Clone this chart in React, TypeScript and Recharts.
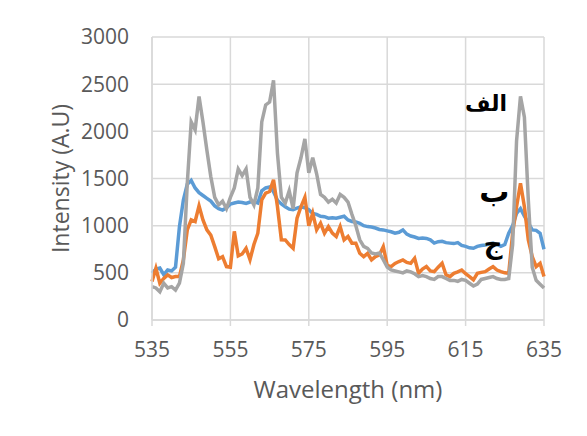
import React from 'react';
import { LineChart, Line, XAxis, YAxis, CartesianGrid, ReferenceDot, Label } from 'recharts';

const wavelengths: number[] = Array.from({ length: 101 }, (_, i) => 535 + i);

const seriesBlue: number[] = [
  495, 540, 550, 480, 530, 520, 560, 990, 1270, 1440,
  1480, 1400, 1350, 1320, 1290, 1260, 1210, 1180, 1165, 1190,
  1230, 1240, 1250, 1245, 1235, 1250, 1255, 1240, 1370, 1400,
  1410, 1360, 1270, 1230, 1200, 1175, 1170, 1185, 1200, 1190,
  1170, 1130, 1120, 1100, 1095, 1080, 1085, 1080, 1090, 1100,
  1060, 1045, 1040, 1025, 1000, 990, 985, 975, 960, 955,
  945, 935, 920, 930, 955, 910, 890, 880, 865, 870,
  865, 850, 815, 830, 835, 820, 815, 810, 820, 790,
  780, 765, 760, 780, 790, 795, 805, 815, 800, 780,
  800, 920, 1000, 1130, 1180, 1100, 1030, 955, 950, 920,
  750,
];

const seriesOrange: number[] = [
  407, 548, 390, 440, 478, 450, 460, 460, 637, 955,
  1061, 1044, 1210, 1061, 955, 900, 778, 650, 672, 566,
  560, 940, 680, 700, 760, 640, 800, 920, 1274, 1345,
  1362, 1486, 1203, 850, 849, 800, 760, 1080, 1200, 1300,
  1000, 1132, 955, 1026, 920, 990, 920, 885, 990, 849,
  885, 814, 814, 707, 672, 707, 637, 672, 690, 778,
  580, 566, 600, 620, 637, 610, 600, 654, 495, 540,
  566, 520, 513, 560, 601, 480, 460, 495, 510, 530,
  490, 460, 425, 495, 505, 513, 540, 566, 530, 513,
  500, 495, 920, 1200, 1450, 1200, 849, 672, 566, 601,
  460,
];

const seriesGray: number[] = [
  354, 340, 300, 390, 340, 354, 318, 390, 600, 1450,
  2100, 2016, 2370, 2100, 1800, 1520, 1300, 1220, 1260, 1180,
  1300, 1400, 1600, 1530, 1600, 1300, 1220, 1400, 2100, 2280,
  2310, 2540, 1770, 1300, 1240, 1370, 1180, 1560, 1720, 1920,
  1560, 1720, 1550, 1330, 1300, 1250, 1280, 1240, 1330, 1300,
  1250, 1120, 1000, 850, 780, 760, 710, 700, 710, 640,
  560, 530, 520, 510, 500, 520, 510, 490, 460, 470,
  460, 440, 430, 460, 460, 440, 420, 420, 410, 430,
  420, 390, 360, 380, 430, 440, 450, 460, 440, 430,
  430, 440, 800, 1900, 2370, 2150, 1270, 560, 420, 380,
  340,
];

const xTicks: number[] = [535, 555, 575, 595, 615, 635];
const yTicks: number[] = [0, 500, 1000, 1500, 2000, 2500, 3000];

const seriesLabels = [
  { text: 'الف', x: 620.2, y: 2290 },
  { text: 'ب', x: 622.3, y: 1367 },
  { text: 'ج', x: 622.0, y: 806 },
];

const labelFontSize: Record<string, number> = { 'الف': 22, 'ب': 30, 'ج': 26 };

const data = wavelengths.map((w, i) => ({
  w,
  blue: seriesBlue[i],
  orange: seriesOrange[i],
  gray: seriesGray[i],
}));

const FONT = '"Open Sans", sans-serif';
const TXT = '#595959';
const GRID = '#d9d9d9';

export default function App() {
  return (
    <div
      style={{
        width: 576,
        height: 440,
        border: `1px solid ${GRID}`,
        margin: '-1px 0 0 -1px',
        boxSizing: 'border-box',
        background: '#fff',
      }}
    >
      <LineChart
        width={574}
        height={428}
        data={data}
        margin={{ top: 29, right: 38, bottom: 86, left: 0 }}
      >
        <CartesianGrid stroke={GRID} strokeWidth={1.5} />
        <XAxis
          type="number"
          dataKey="w"
          domain={[535, 635]}
          ticks={xTicks}
          interval={0}
          height={30}
          stroke={GRID}
          strokeWidth={1.5}
          tickSize={6}
          tickMargin={16}
          tick={{ fill: TXT, fontSize: 21, fontFamily: FONT }}
        >
          <Label
            content={({ viewBox }: any) => (
              <text
                x={viewBox.x + viewBox.width / 2}
                y={viewBox.y + 78}
                textAnchor="middle"
                fill={TXT}
                fontSize={24}
                fontFamily={FONT}
              >
                Wavelength (nm)
              </text>
            )}
          />
        </XAxis>
        <YAxis
          domain={[0, 3000]}
          ticks={yTicks}
          interval={0}
          width={144}
          stroke={GRID}
          strokeWidth={1.5}
          tickLine={false}
          tickSize={0}
          tickMargin={23}
          tick={{ fill: TXT, fontSize: 21, fontFamily: FONT }}
        >
          <Label
            content={({ viewBox }: any) => {
              const cx = viewBox.x + 52;
              const cy = viewBox.y + viewBox.height / 2;
              return (
                <text
                  x={cx}
                  y={cy}
                  transform={`rotate(-90 ${cx} ${cy})`}
                  textAnchor="middle"
                  dominantBaseline="central"
                  fill={TXT}
                  fontSize={23}
                  fontFamily={FONT}
                >
                  Intensity (A.U)
                </text>
              );
            }}
          />
        </YAxis>
        <Line type="linear" dataKey="blue" stroke="#5B9BD5" strokeWidth={3.5} dot={false} isAnimationActive={false} />
        <Line type="linear" dataKey="orange" stroke="#ED7D31" strokeWidth={3.5} dot={false} isAnimationActive={false} />
        <Line type="linear" dataKey="gray" stroke="#A5A5A5" strokeWidth={3.5} dot={false} isAnimationActive={false} />
        {seriesLabels.map((l) => (
          <ReferenceDot
            key={l.text}
            x={l.x}
            y={l.y}
            r={0}
            fill="none"
            stroke="none"
            label={({ viewBox }: any) => (
              <text
                x={viewBox.x + viewBox.width / 2}
                y={viewBox.y + viewBox.height / 2}
                textAnchor="middle"
                dominantBaseline="central"
                fill="#000"
                fontSize={labelFontSize[l.text]}
                fontWeight="bold"
                fontFamily={'"DejaVu Sans", sans-serif'}
              >
                {l.text}
              </text>
            )}
          />
        ))}
      </LineChart>
    </div>
  );
}
